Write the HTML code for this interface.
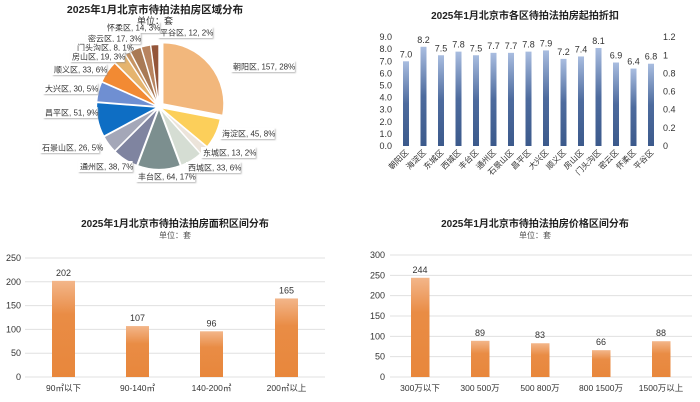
<!DOCTYPE html>
<html><head><meta charset="utf-8">
<style>
body{margin:0;width:700px;height:402px;background:#fff;overflow:hidden;font-family:"Liberation Sans","Noto Sans CJK SC",sans-serif;}
svg{position:absolute;left:0;top:0}
text{font-family:"Liberation Sans","Noto Sans CJK SC",sans-serif;}
</style></head><body>
<svg width="700" height="402" viewBox="0 0 700 402">
<defs>
<linearGradient id="bl" x1="0" y1="0" x2="0" y2="1"><stop offset="0" stop-color="#a9bde0"/><stop offset="0.5" stop-color="#4d6b9e"/><stop offset="1" stop-color="#3c5a8c"/></linearGradient>
<linearGradient id="or" x1="0" y1="0" x2="0" y2="1"><stop offset="0" stop-color="#f3b68a"/><stop offset="0.35" stop-color="#e98c45"/><stop offset="1" stop-color="#e8873c"/></linearGradient>
<filter id="sh" x="-10%" y="-20%" width="130%" height="160%"><feDropShadow dx="1" dy="1" stdDeviation="0.8" flood-color="#888" flood-opacity="0.6"/></filter>
</defs>
<g id="pie"></g>
<g id="plabels" font-size="8" fill="#333"></g>
<text x="155" y="13" font-size="10.5" font-weight="bold" text-anchor="middle" fill="#222">2025年1月北京市待拍法拍房区域分布</text>
<text x="155" y="24" font-size="9" text-anchor="middle" fill="#333">单位：套</text>

<text x="525" y="19" font-size="10" font-weight="bold" text-anchor="middle" fill="#222">2025年1月北京市各区待拍法拍房起拍折扣</text>
<g id="tr" font-size="9" fill="#333"></g>

<text x="175" y="227" font-size="10" font-weight="bold" text-anchor="middle" fill="#222">2025年1月北京市待拍法拍房面积区间分布</text>
<text x="175" y="238" font-size="8" text-anchor="middle" fill="#555">单位：套</text>
<g id="bl1" font-size="9" fill="#333"></g>

<text x="535" y="227" font-size="10" font-weight="bold" text-anchor="middle" fill="#222">2025年1月北京市待拍法拍房价格区间分布</text>
<text x="535" y="238" font-size="8" text-anchor="middle" fill="#555">单位：套</text>
<g id="br" font-size="9" fill="#333"></g>
</svg>
<script>
var NS="http://www.w3.org/2000/svg";
function el(p,t,a,txt){var e=document.createElementNS(NS,t);for(var k in a)e.setAttribute(k,a[k]);if(txt!==undefined)e.textContent=txt;p.appendChild(e);return e;}
// pie
var vals=[157,45,13,33,64,38,26,51,30,33,19,8,17,14,12];
var cols=["#f2b77c","#fccf5a","#ece4da","#d5ddd3","#7c8f8f","#7f84a0","#a4a7b8","#0e6ec4","#6f8fd2","#f28a33","#e5b46e","#c79463","#a97a55","#b8845f","#94563a"];
var tot=560,cx=159,cy=107,r=61,a=0,pie=document.getElementById('pie');
for(var i=0;i<vals.length;i++){
 var a1=a, a2=a+vals[i]/tot*2*Math.PI; var m=(a1+a2)/2;
 var off=i==0?5:1.5; var ox=cx+off*Math.sin(m), oy=cy-off*Math.cos(m);
 var x1=ox+r*Math.sin(a1),y1=oy-r*Math.cos(a1),x2=ox+r*Math.sin(a2),y2=oy-r*Math.cos(a2);
 var la=(a2-a1)>Math.PI?1:0;
 el(pie,'path',{d:'M'+ox+','+oy+'L'+x1+','+y1+'A'+r+','+r+' 0 '+la+' 1 '+x2+','+y2+'Z',fill:cols[i],stroke:'#fff','stroke-width':1.2});
 a=a2;}
var labs=[["平谷区, 12, 2%",160,33],["怀柔区, 14, 3%",107,28],["密云区, 17, 3%",88,39],["门头沟区, 8, 1%",77,48],["房山区, 19, 3%",72,57],["顺义区, 33, 6%",54,70],["大兴区, 30, 5%",45,89],["昌平区, 51, 9%",45,113],["石景山区, 26, 5%",42,148],["通州区, 38, 7%",80,167],["丰台区, 64, 17%",138,177],["西城区, 33, 6%",188,168],["东城区, 13, 2%",203,153],["海淀区, 45, 8%",222,134],["朝阳区, 157, 28%",233,67]];
var pl=document.getElementById('plabels');
labs.forEach(function(l){var w=l[0].length*4.6+4;el(pl,'rect',{x:l[1]-2,y:l[2]-6,width:w,height:11,fill:'#fff',filter:'url(#sh)'});el(pl,'text',{x:l[1],y:l[2]+2.5},l[0]);});
// top right
var tr=document.getElementById('tr');
var dv=[7.0,8.2,7.5,7.8,7.5,7.7,7.7,7.8,7.9,7.2,7.4,8.1,6.9,6.4,6.8];
var dn=["朝阳区","海淀区","东城区","西城区","丰台区","通州区","石景山区","昌平区","大兴区","顺义区","房山区","门头沟区","密云区","怀柔区","平谷区"];
for(var k=0;k<=9;k++){var y=146-k*12.1;el(tr,'text',{x:392,y:y+3,'text-anchor':'end'},k.toFixed(1));}
var rl=["0","0.2","0.4","0.6","0.8","1","1.2"];
for(var k=0;k<7;k++){var y=146-k*(9*12.1/1.2*0.2);el(tr,'text',{x:663,y:y+3},rl[k]);}
for(var i=0;i<15;i++){var x=403+i*17.5,h=dv[i]*12.1;el(tr,'rect',{x:x,y:146-h,width:6,height:h,fill:'url(#bl)'});
 el(tr,'text',{x:x+3,y:146-h-4,'text-anchor':'middle'},dv[i].toFixed(1));
 el(tr,'text',{x:x+6,y:153,'text-anchor':'end','font-size':8,transform:'rotate(-45 '+(x+6)+' 153)'},dn[i]);}
// bottom left
var b1=document.getElementById('bl1');
for(var k=0;k<=5;k++){var y=377-k*23.8;el(b1,'line',{x1:25,x2:325,y1:y,y2:y,stroke:'#e0e0e0','stroke-width':1});el(b1,'text',{x:21,y:y+3,'text-anchor':'end'},k*50);}
var v1=[202,107,96,165],n1=["90㎡以下","90-140㎡","140-200㎡","200㎡以上"],x1=[52,126,200,275];
for(var i=0;i<4;i++){var h=v1[i]*0.476;el(b1,'rect',{x:x1[i],y:377-h,width:23,height:h,fill:'url(#or)'});el(b1,'text',{x:x1[i]+11.5,y:377-h-5,'text-anchor':'middle'},v1[i]);el(b1,'text',{x:x1[i]+11.5,y:391,'text-anchor':'middle','font-size':8.5},n1[i]);}
// bottom right
var b2=document.getElementById('br');
for(var k=0;k<=6;k++){var y=377-k*20.33;el(b2,'line',{x1:390,x2:692,y1:y,y2:y,stroke:'#e0e0e0','stroke-width':1});el(b2,'text',{x:385,y:y+3,'text-anchor':'end'},k*50);}
var v2=[244,89,83,66,88],n2=["300万以下","300  500万","500  800万","800  1500万","1500万以上"],x2=[411,471,531,592,652];
for(var i=0;i<5;i++){var h=v2[i]*0.4067;el(b2,'rect',{x:x2[i],y:377-h,width:18.5,height:h,fill:'url(#or)'});el(b2,'text',{x:x2[i]+9,y:377-h-5,'text-anchor':'middle'},v2[i]);el(b2,'text',{x:x2[i]+9,y:391,'text-anchor':'middle','font-size':8.5},n2[i]);}
</script>
</body></html>
